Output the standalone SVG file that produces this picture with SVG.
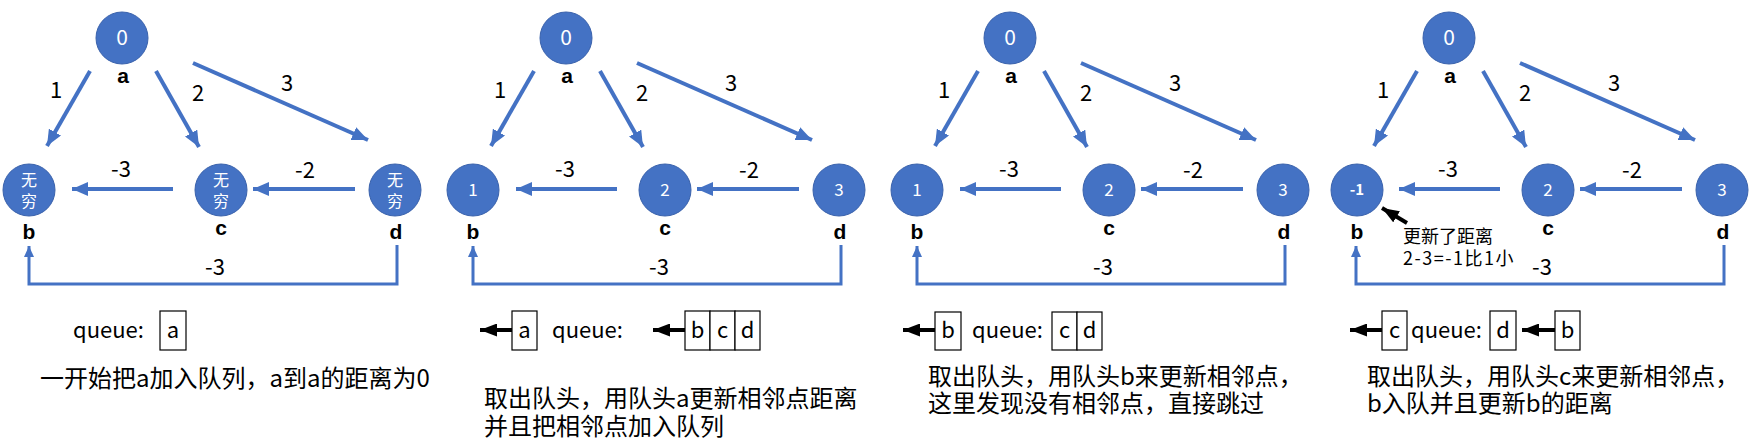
<svg xmlns="http://www.w3.org/2000/svg" width="1754" height="448" viewBox="0 0 1754 448">
<style>
.nd{fill:#4472C4;stroke:#3A62AC;stroke-width:1}
.nt{fill:#fff;font-family:"Noto Sans CJK SC",sans-serif;text-anchor:middle}
.lb{fill:#000;font-family:"Liberation Sans",Arial,sans-serif;font-weight:bold;font-size:21px;text-anchor:middle}
.ew{fill:#000;font-family:"Noto Sans CJK SC",sans-serif;font-size:22px;text-anchor:middle}
.e{fill:none;stroke:#4472C4;stroke-width:4;marker-end:url(#ab)}
.e2{fill:none;stroke:#4472C4;stroke-width:3;marker-end:url(#ab2)}
.k{fill:none;stroke:#000;stroke-width:4;marker-end:url(#ak)}
.bx{fill:#fff;stroke:#000;stroke-width:1.2}
.bt{fill:#000;font-family:"Noto Sans CJK SC",sans-serif;font-size:22px;text-anchor:middle}
.q{fill:#000;font-family:"Noto Sans CJK SC",sans-serif;font-size:22px}
.d{fill:#000;font-family:"Noto Sans CJK SC",sans-serif;font-size:24px}
.an{fill:#000;font-family:"Noto Sans CJK SC",sans-serif;font-size:18px}
</style>
<defs>
<marker id="ab" markerUnits="userSpaceOnUse" markerWidth="16" markerHeight="14" refX="16" refY="7" orient="auto"><path d="M0,0 L16,7 L0,14 z" fill="#4472C4"/></marker>
<marker id="ab2" markerUnits="userSpaceOnUse" markerWidth="11" markerHeight="10" refX="11" refY="5" orient="auto"><path d="M0,0 L11,5 L0,10 z" fill="#4472C4"/></marker>
<marker id="ak" markerUnits="userSpaceOnUse" markerWidth="17" markerHeight="13" refX="17" refY="6.5" orient="auto"><path d="M0,0 L17,6.5 L0,13 z" fill="#000"/></marker>
</defs>

<!-- Panel 1 -->
<g id="panel1">
<g id="p1-connectors">
<line class="e" x1="90" y1="71" x2="47" y2="146"/>
<line class="e" x1="156" y1="71" x2="199" y2="147"/>
<line class="e" x1="193" y1="63" x2="368" y2="140"/>
<line class="e" x1="173" y1="189" x2="72" y2="189"/>
<line class="e" x1="355" y1="189" x2="253" y2="189"/>
<path class="e2" d="M397,245 V284 H29 V246"/>
<text class="ew" x="56" y="98">1</text>
<text class="ew" x="198" y="101">2</text>
<text class="ew" x="287" y="91">3</text>
<text class="ew" x="121" y="177">-3</text>
<text class="ew" x="305" y="178">-2</text>
<text class="ew" x="215" y="275">-3</text>
</g>
<g id="p1-a"><circle class="nd" cx="122" cy="38" r="26"/><text class="nt" x="122" y="45" font-size="21">0</text><text class="lb" x="123" y="83">a</text></g>
<g id="p1-b"><circle class="nd" cx="29" cy="190" r="26"/><text class="nt" x="29" y="186" font-size="16">无</text><text class="nt" x="29" y="207" font-size="16">穷</text><text class="lb" x="29" y="239">b</text></g>
<g id="p1-c"><circle class="nd" cx="221" cy="190" r="26"/><text class="nt" x="221" y="186" font-size="16">无</text><text class="nt" x="221" y="207" font-size="16">穷</text><text class="lb" x="221" y="235">c</text></g>
<g id="p1-d"><circle class="nd" cx="395" cy="190" r="26"/><text class="nt" x="395" y="186" font-size="16">无</text><text class="nt" x="395" y="207" font-size="16">穷</text><text class="lb" x="396" y="239">d</text></g>
<g id="p1-queue">
<text class="q" x="73" y="338">queue:</text>
<rect class="bx" x="160" y="311" width="26" height="39"/><text class="bt" x="173" y="338">a</text>
</g>
<text class="d" x="40" y="387">一开始把a加入队列，a到a的距离为0</text>
</g>

<!-- Panel 2 -->
<g id="panel2" transform="translate(444,0)">
<g id="p2-connectors">
<line class="e" x1="90" y1="71" x2="47" y2="146"/>
<line class="e" x1="156" y1="71" x2="199" y2="147"/>
<line class="e" x1="193" y1="63" x2="368" y2="140"/>
<line class="e" x1="173" y1="189" x2="72" y2="189"/>
<line class="e" x1="355" y1="189" x2="253" y2="189"/>
<path class="e2" d="M397,245 V284 H29 V246"/>
<text class="ew" x="56" y="98">1</text>
<text class="ew" x="198" y="101">2</text>
<text class="ew" x="287" y="91">3</text>
<text class="ew" x="121" y="177">-3</text>
<text class="ew" x="305" y="178">-2</text>
<text class="ew" x="215" y="275">-3</text>
</g>
<g id="p2-a"><circle class="nd" cx="122" cy="38" r="26"/><text class="nt" x="122" y="45" font-size="21">0</text><text class="lb" x="123" y="83">a</text></g>
<g id="p2-b"><circle class="nd" cx="29" cy="190" r="26"/><text class="nt" x="29" y="196" font-size="17">1</text><text class="lb" x="29" y="239">b</text></g>
<g id="p2-c"><circle class="nd" cx="221" cy="190" r="26"/><text class="nt" x="221" y="196" font-size="17">2</text><text class="lb" x="221" y="235">c</text></g>
<g id="p2-d"><circle class="nd" cx="395" cy="190" r="26"/><text class="nt" x="395" y="196" font-size="17">3</text><text class="lb" x="396" y="239">d</text></g>
</g>
<g id="p2-queue">
<line class="k" x1="512" y1="330" x2="480" y2="330"/>
<rect class="bx" x="512" y="311" width="25" height="39"/><text class="bt" x="524.5" y="338">a</text>
<text class="q" x="552" y="338">queue:</text>
<line class="k" x1="685" y1="330" x2="653" y2="330"/>
<rect class="bx" x="685" y="311" width="25" height="39"/><text class="bt" x="697.5" y="338">b</text>
<rect class="bx" x="710" y="311" width="25" height="39"/><text class="bt" x="722.5" y="338">c</text>
<rect class="bx" x="735" y="311" width="25" height="39"/><text class="bt" x="747.5" y="338">d</text>
</g>
<text class="d"><tspan x="484" y="407">取出队头，用队头a更新相邻点距离</tspan><tspan x="484" y="435">并且把相邻点加入队列</tspan></text>

<!-- Panel 3 -->
<g id="panel3" transform="translate(888,0)">
<g id="p3-connectors">
<line class="e" x1="90" y1="71" x2="47" y2="146"/>
<line class="e" x1="156" y1="71" x2="199" y2="147"/>
<line class="e" x1="193" y1="63" x2="368" y2="140"/>
<line class="e" x1="173" y1="189" x2="72" y2="189"/>
<line class="e" x1="355" y1="189" x2="253" y2="189"/>
<path class="e2" d="M397,245 V284 H29 V246"/>
<text class="ew" x="56" y="98">1</text>
<text class="ew" x="198" y="101">2</text>
<text class="ew" x="287" y="91">3</text>
<text class="ew" x="121" y="177">-3</text>
<text class="ew" x="305" y="178">-2</text>
<text class="ew" x="215" y="275">-3</text>
</g>
<g id="p3-a"><circle class="nd" cx="122" cy="38" r="26"/><text class="nt" x="122" y="45" font-size="21">0</text><text class="lb" x="123" y="83">a</text></g>
<g id="p3-b"><circle class="nd" cx="29" cy="190" r="26"/><text class="nt" x="29" y="196" font-size="17">1</text><text class="lb" x="29" y="239">b</text></g>
<g id="p3-c"><circle class="nd" cx="221" cy="190" r="26"/><text class="nt" x="221" y="196" font-size="17">2</text><text class="lb" x="221" y="235">c</text></g>
<g id="p3-d"><circle class="nd" cx="395" cy="190" r="26"/><text class="nt" x="395" y="196" font-size="17">3</text><text class="lb" x="396" y="239">d</text></g>
</g>
<g id="p3-queue">
<line class="k" x1="935" y1="330" x2="903" y2="330"/>
<rect class="bx" x="935" y="312" width="26" height="38"/><text class="bt" x="948" y="338">b</text>
<text class="q" x="972" y="338">queue:</text>
<rect class="bx" x="1052" y="312" width="25" height="38"/><text class="bt" x="1064.5" y="338">c</text>
<rect class="bx" x="1077" y="312" width="25" height="38"/><text class="bt" x="1089.5" y="338">d</text>
</g>
<text class="d"><tspan x="928" y="385">取出队头，用队头b来更新相邻点，</tspan><tspan x="928" y="412">这里发现没有相邻点，直接跳过</tspan></text>

<!-- Panel 4 -->
<g id="panel4" transform="translate(1327,0)">
<g id="p4-connectors">
<line class="e" x1="90" y1="71" x2="47" y2="146"/>
<line class="e" x1="156" y1="71" x2="199" y2="147"/>
<line class="e" x1="193" y1="63" x2="368" y2="140"/>
<line class="e" x1="173" y1="189" x2="72" y2="189"/>
<line class="e" x1="355" y1="189" x2="253" y2="189"/>
<path class="e2" d="M397,245 V284 H29 V246"/>
<text class="ew" x="56" y="98">1</text>
<text class="ew" x="198" y="101">2</text>
<text class="ew" x="287" y="91">3</text>
<text class="ew" x="121" y="177">-3</text>
<text class="ew" x="305" y="178">-2</text>
<text class="ew" x="215" y="275">-3</text>
<line class="k" x1="80" y1="223" x2="55" y2="208"/>
</g>
<g id="p4-a"><circle class="nd" cx="122" cy="38" r="26"/><text class="nt" x="122" y="45" font-size="21">0</text><text class="lb" x="123" y="83">a</text></g>
<g id="p4-b"><circle class="nd" cx="30" cy="190" r="26"/><text class="nt" x="30" y="195" font-size="15" font-weight="bold">-1</text><text class="lb" x="30" y="239">b</text></g>
<g id="p4-c"><circle class="nd" cx="221" cy="190" r="26"/><text class="nt" x="221" y="196" font-size="17">2</text><text class="lb" x="221" y="235">c</text></g>
<g id="p4-d"><circle class="nd" cx="395" cy="190" r="26"/><text class="nt" x="395" y="196" font-size="17">3</text><text class="lb" x="396" y="239">d</text></g>
<text class="an"><tspan x="76" y="243">更新了距离</tspan><tspan x="76" y="265" letter-spacing="1.5">2-3=-1比1小</tspan></text>
</g>
<g id="p4-queue">
<line class="k" x1="1382" y1="330" x2="1350" y2="330"/>
<rect class="bx" x="1382" y="311" width="25" height="39"/><text class="bt" x="1394.5" y="338">c</text>
<text class="q" x="1411" y="338">queue:</text>
<rect class="bx" x="1490" y="311" width="26" height="39"/><text class="bt" x="1503" y="338">d</text>
<line class="k" x1="1555" y1="330" x2="1522" y2="330"/>
<rect class="bx" x="1555" y="311" width="25" height="39"/><text class="bt" x="1567.5" y="338">b</text>
</g>
<text class="d"><tspan x="1367" y="385">取出队头，用队头c来更新相邻点，</tspan><tspan x="1367" y="412">b入队并且更新b的距离</tspan></text>
</svg>
